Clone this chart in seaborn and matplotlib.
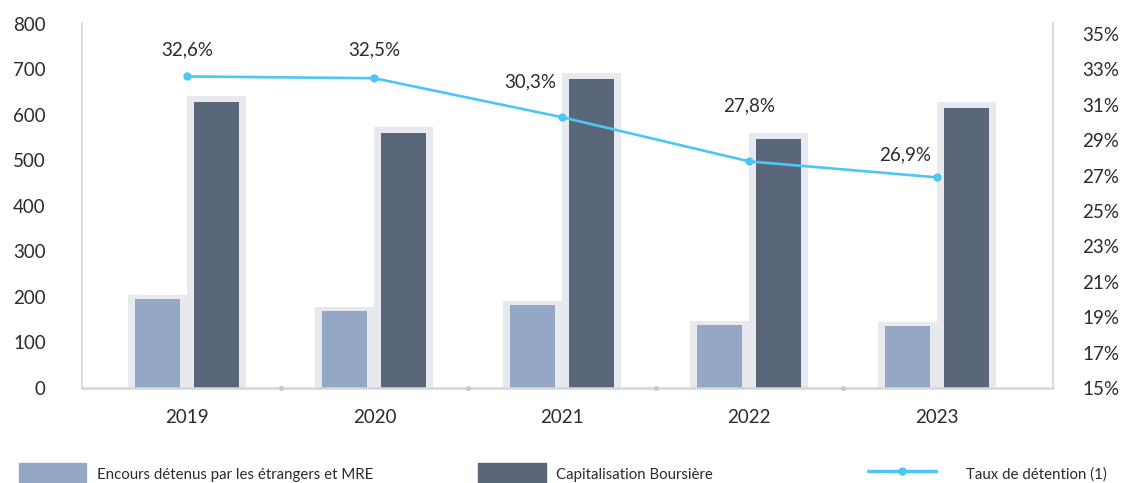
import numpy as np
import pandas as pd
import matplotlib
matplotlib.use("Agg")
import matplotlib.pyplot as plt
import seaborn as sns
from matplotlib.patches import Patch
from matplotlib.lines import Line2D
from matplotlib.ticker import FuncFormatter

years = ["2019", "2020", "2021", "2022", "2023"]
encours = [196, 169, 183, 138, 136]          # Encours détenus par les étrangers et MRE
capitalisation = [629, 560, 679, 547, 615]  # Capitalisation Boursière
taux = [32.6, 32.5, 30.3, 27.8, 26.9]        # Taux de détention (1), %
taux_labels = ["32,6%", "32,5%", "30,3%", "27,8%", "26,9%"]

series_names = ["Encours détenus par les étrangers et MRE", "Capitalisation Boursière"]
line_name = "Taux de détention (1)"

light_col = "#94a8c6"
dark_col = "#5a6679"
shadow_col = "#e8e9ee"
line_col = "#4dc6f4"
axis_col = "#d6d6d6"
text_col = "#2b2b2b"

sns.set_style("white")
plt.rcParams["font.family"] = ["Lato", "DejaVu Sans"]

df = pd.DataFrame({
    "year": years * 2,
    "series": [series_names[0]] * len(years) + [series_names[1]] * len(years),
    "value": encours + capitalisation,
})
# light grey frame drawn behind each bar
df["frame"] = df["value"] + np.where(df["series"] == series_names[0], 9, 13)

fig = plt.figure(figsize=(11.21, 4.83), dpi=100)
ax = fig.add_axes([0.0731, 0.1967, 0.8662, 0.7557])

sns.barplot(data=df, x="year", y="frame", hue="series", order=years,
            palette=[shadow_col, shadow_col], width=0.63, gap=0,
            legend=False, ax=ax, errorbar=None, saturation=1, linewidth=0)
sns.barplot(data=df, x="year", y="value", hue="series", order=years,
            palette=[light_col, dark_col], width=0.63, gap=0.24,
            legend=False, ax=ax, errorbar=None, saturation=1, linewidth=0)

ax.set_xlim(-0.56, 4.62)
ax.set_ylim(0, 802)
ax.set_yticks(range(0, 801, 100))
ax.set_xlabel("")
ax.set_ylabel("")

# small dots between categories on the axis
mids = np.arange(len(years) - 1) + 0.5
ax.scatter(mids, np.zeros_like(mids), s=14, color="#c9c9c9", zorder=5,
           clip_on=False, linewidths=0)

ax.spines["top"].set_visible(False)
ax.spines["right"].set_visible(False)
for side in ["left", "bottom"]:
    ax.spines[side].set_color(axis_col)
ax.spines["bottom"].set_linewidth(1.8)
ax.spines["left"].set_linewidth(1.2)

ax.tick_params(axis="y", length=0, pad=26, labelsize=13.5, labelcolor=text_col)
ax.tick_params(axis="x", length=0, pad=15, labelsize=13.5, labelcolor=text_col)
ax.set_xticks([-0.56, 4.62], minor=True)
ax.set_yticks([0], minor=True)
ax.tick_params(which="minor", length=10, width=1.2, color=axis_col)

ax2 = ax.twinx()
x_pos = np.arange(len(years))
sns.lineplot(x=x_pos, y=taux, ax=ax2, color=line_col, linewidth=1.9,
             marker="o", markersize=6, markeredgewidth=0, zorder=6)
ax2.set_ylim(15, 35.62)
ax2.set_yticks(range(15, 36, 2))
ax2.yaxis.set_major_formatter(FuncFormatter(lambda v, p: f"{v:.0f}%"))
ax2.set_xlim(-0.56, 4.62)
ax2.tick_params(axis="y", length=0, pad=21, labelsize=13.5, labelcolor=text_col)
ax2.set_yticks([15], minor=True)
ax2.tick_params(which="minor", length=6, width=1.2, color=axis_col)
for side in ["top", "left", "bottom"]:
    ax2.spines[side].set_visible(False)
ax2.spines["right"].set_color(axis_col)
ax2.spines["right"].set_linewidth(1.2)
ax2.set_ylabel("")

label_offsets = [(0, 27), (0, 28), (-32, 35), (0, 56), (-32, 22)]
for xp, yv, lab, off in zip(x_pos, taux, taux_labels, label_offsets):
    ax2.annotate(lab, (xp, yv), xytext=off, textcoords="offset pixels",
                 ha="center", va="center", fontsize=13.5, color=text_col)

# legend along the bottom edge
leg_kw = dict(frameon=False, loc="lower left", borderpad=0, fontsize=10.8,
              handlelength=4.5, handleheight=1.75, labelcolor=text_col)
fig.legend(handles=[Patch(color=light_col, label=series_names[0])],
           bbox_to_anchor=(0.010, -0.018), handletextpad=0.7, **leg_kw)
fig.legend(handles=[Patch(color=dark_col, label=series_names[1])],
           bbox_to_anchor=(0.420, -0.018), handletextpad=0.7, **leg_kw)
fig.legend(handles=[Line2D([], [], color=line_col, linewidth=2.5, marker="o",
                           markersize=6, markeredgewidth=0, label=line_name)],
           bbox_to_anchor=(0.768, -0.018), handletextpad=2.0, **leg_kw)

fig.savefig("out.png", dpi=100)
